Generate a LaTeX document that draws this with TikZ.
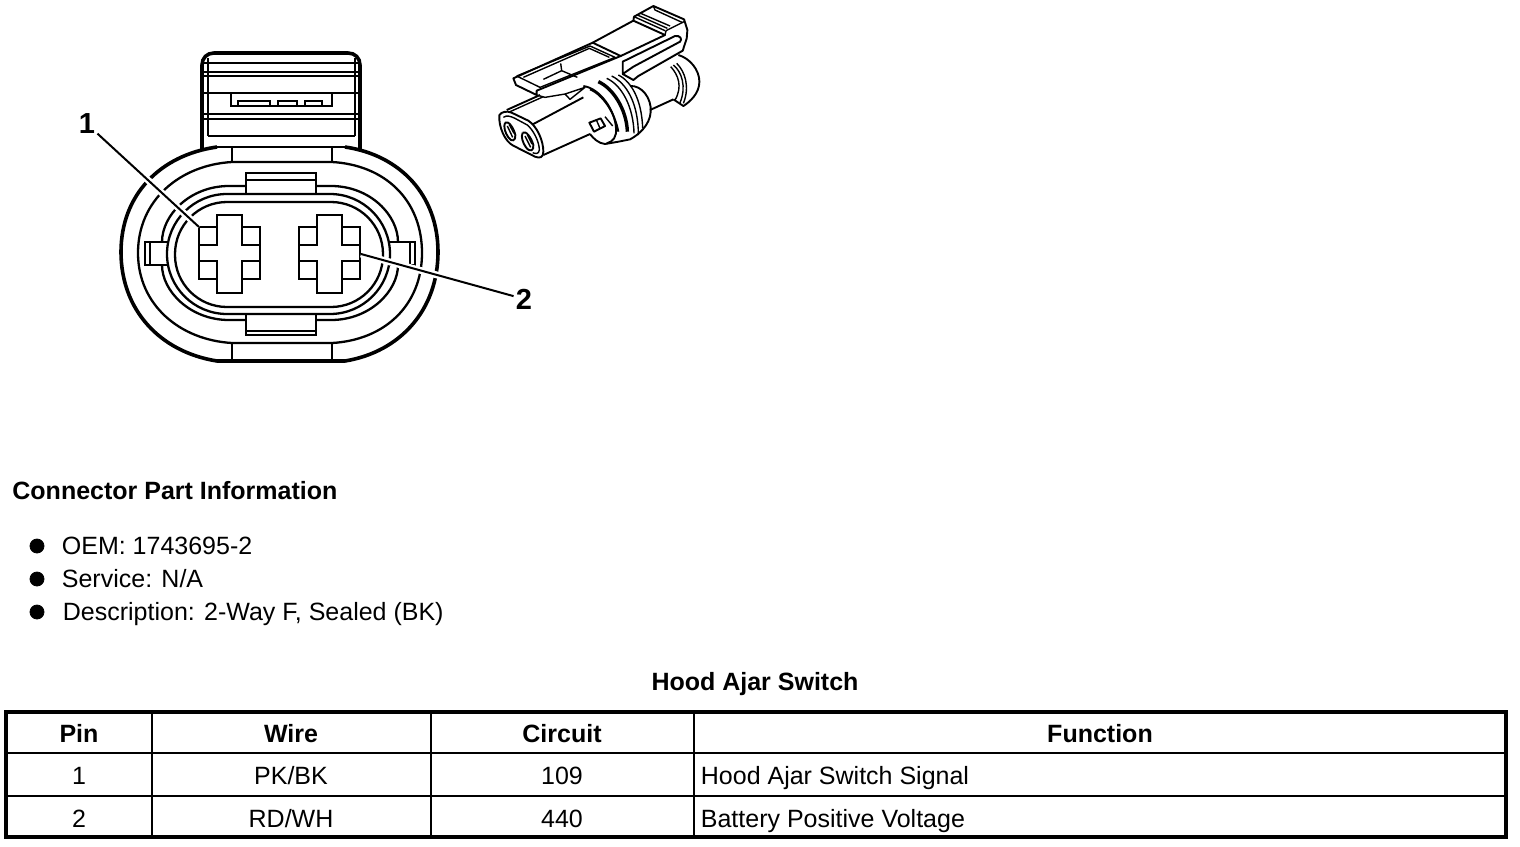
\documentclass[tikz,border=0pt]{standalone}
\usepackage{fontspec}
\setmainfont{Liberation Sans}
\tikzset{
    thinline/.style={line width=1.15pt},
    thickline/.style={line width=1.8pt},
    outlineline/.style={line width=0.95pt, line join=round},
    sketchline/.style={line width=0.7pt, line join=round},
    heavyline/.style={line width=1.7pt, line join=round},
    leaderline/.style={line width=1pt, preaction={draw, white, line width=3.4pt}},
    calloutlabel/.style={font=\fontsize{14.5}{16}\selectfont\bfseries, inner sep=1pt},
    plaintext/.style={font=\fontsize{12.5}{14}\selectfont, anchor=base, inner sep=0pt},
    headtext/.style={plaintext, font=\fontsize{12.5}{14}\selectfont\bfseries},
    pinsocket/.pic={
        \draw[thinline] (0,0) -- (18,0) -- (18,-12) -- (43,-12) -- (43,0) -- (61,0) -- (61,52)
            -- (43,52) -- (43,66) -- (18,66) -- (18,52) -- (0,52) -- cycle;
        \draw[thinline] (0,18) -- (18,18) -- (18,0) (0,34) -- (18,34) -- (18,52);
        \draw[thinline] (61,18) -- (43,18) -- (43,0) (61,34) -- (43,34) -- (43,52);
    }
}
\begin{document}
\begin{tikzpicture}[x=0.5pt, y=-0.5pt]
    \useasboundingbox (0,0) rectangle (1520,846);
    % rear latch of the connector
    \draw[thickline] (202,150) -- (202,65) .. controls (202,58) and (207,53) .. (214,53) -- (348,53)
        .. controls (355,53) and (360,58) .. (360,65) -- (360,150);
    \draw[thinline] (208,58) -- (208,136) (355,58) -- (355,136);
    \draw[thinline] (204,63) -- (358,63) (204,72) -- (358,72) (204,76) -- (358,76);
    \draw[thinline] (204,93) -- (332,93) (332,93) -- (358,93);
    \draw[thinline] (231,93) -- (231,106) -- (332,106) -- (332,93);
    \draw[thinline] (238,106) -- (238,101) -- (270,101) -- (270,106) (278,106) -- (278,101) -- (297,101) -- (297,106)
        (305,106) -- (305,101) -- (322,101) -- (322,106);
    \draw[thinline] (204,114) -- (358,114) (204,119) -- (358,119) (208,136) -- (355,136);
    \draw[thinline] (217,147) -- (345,147);
    % connector body
    \draw[thickline] (217,147) .. controls (160,155) and (121,195) .. (121,252) .. controls (121,310) and (160,352) .. (217,361)
        -- (345,361) .. controls (400,352) and (438,310) .. (438,252) .. controls (438,195) and (400,155) .. (345,147);
    \draw[thinline] (232,162) .. controls (180,165) and (138,200) .. (138,253) .. controls (138,305) and (180,340) .. (232,343)
        -- (332,343) .. controls (385,340) and (422,305) .. (422,253) .. controls (422,200) and (385,165) .. (332,162) -- cycle;
    \draw[thinline] (232,147) -- (232,162) (332,147) -- (332,162) (232,343) -- (232,361) (332,343) -- (332,361);
    % seal rings
    \draw[thinline] (246,186) -- (229,186) .. controls (190,186) and (162,215) .. (162,242);
    \draw[thinline] (162,265) .. controls (162,291) and (190,320) .. (229,320) -- (246,320);
    \draw[thinline] (316,186) -- (331,186) .. controls (370,186) and (398,215) .. (398,242);
    \draw[thinline] (398,265) .. controls (398,291) and (370,320) .. (331,320) -- (316,320);
    \draw[thinline, rounded corners=30pt] (167,194) rectangle (390,314);
    \draw[thinline, rounded corners=26pt] (175,202) rectangle (383,307);
    % locating tabs
    \draw[thinline] (246,194) -- (246,173) -- (316,173) -- (316,194) (246,180) -- (316,180);
    \draw[thinline] (246,314) -- (246,335) -- (316,335) -- (316,314) (246,331) -- (316,331);
    \draw[thinline] (167,242) -- (145,242) -- (145,265) -- (167,265) (150,242) -- (150,265);
    \draw[thinline] (390,242) -- (415,242) -- (415,265) -- (390,265) (410,242) -- (410,265);
    % terminals
    \pic at (199,227) {pinsocket};
    \pic at (299,227) {pinsocket};
    % callouts
    \node[calloutlabel] (label1) at (87,124) {1};
    \node[calloutlabel] (label2) at (524,299) {2};
    \coordinate (pin1) at (199,227);
    \coordinate (pin2) at (361,254);
    \draw[leaderline] (label1) -- (pin1);
    \draw[leaderline] (label2) -- (pin2);
    % perspective view, traced in 3x units
    \begin{scope}[shift={(490,0)}, x=0.1667pt, y=-0.1667pt]
        % front face and barrel
        \draw[outlineline] (28,345) .. controls (35,335) and (50,332) .. (65,338) -- (115,362)
            .. controls (140,378) and (160,420) .. (160,455) .. controls (160,472) and (150,476) .. (135,470)
            -- (70,437) .. controls (45,425) and (25,380) .. (28,345) -- cycle;
        \draw[sketchline] (40,352) .. controls (50,345) and (60,348) .. (75,355) -- (112,375)
            .. controls (130,390) and (148,425) .. (148,450) .. controls (146,462) and (138,462) .. (128,458);
        \draw[outlineline] (45,368) .. controls (55,360) and (72,385) .. (76,405) .. controls (78,422) and (65,428) .. (55,412) .. controls (45,398) and (40,380) .. (45,368);
        \draw[outlineline] (98,398) .. controls (108,390) and (125,415) .. (130,435) .. controls (132,452) and (120,458) .. (108,442) .. controls (98,428) and (92,410) .. (98,398);
        \draw[sketchline] (52,378) -- (68,412) (58,374) -- (72,400) (105,408) -- (122,442) (112,404) -- (126,432);
        \draw[outlineline] (50,330) -- (150,285);
        \draw[sketchline] (60,335) -- (160,290);
        \draw[outlineline] (130,372) -- (280,292);
        \draw[outlineline] (160,465) -- (300,402);
        % peg
        \draw[outlineline] (298,368) -- (332,355) -- (345,378) -- (312,395) -- cycle;
        \draw[sketchline] (320,362) -- (330,385) (345,350) -- (368,378);
        % seal
        \draw[outlineline] (280,258) .. controls (330,265) and (375,330) .. (378,385) .. controls (380,410) and (370,425) .. (350,430);
        \draw[heavyline] (325,245) .. controls (370,265) and (410,330) .. (412,395);
        \draw[outlineline] (300,268) .. controls (340,285) and (375,340) .. (385,395);
        \draw[sketchline] (350,235) .. controls (395,255) and (430,320) .. (432,400);
        \draw[sketchline] (365,228) .. controls (410,250) and (445,310) .. (445,405);
        \draw[sketchline] (385,225) .. controls (425,245) and (455,300) .. (458,385);
        \draw[outlineline] (420,258) .. controls (455,255) and (485,295) .. (482,335) .. controls (480,375) and (445,405) .. (420,418) -- (385,425) -- (345,432) .. controls (325,430) and (310,415) .. (300,402);
        % rear barrel
        \draw[outlineline] (480,330) -- (550,298);
        \draw[outlineline] (565,165) .. controls (600,175) and (628,210) .. (628,245) .. controls (628,280) and (600,305) .. (580,318) -- (550,298);
        \draw[sketchline] (550,195) .. controls (575,215) and (590,260) .. (570,308);
        \draw[sketchline] (560,190) .. controls (585,215) and (600,260) .. (580,310);
        \draw[sketchline] (542,200) .. controls (565,225) and (578,260) .. (555,300);
        % latch frame
        \draw[outlineline] (70,235) -- (308,128) -- (392,168) -- (140,272) -- (140,285) -- (78,255) -- cycle;
        \draw[sketchline] (80,228) -- (300,138) -- (375,172) -- (150,262) -- (80,228);
        \draw[sketchline] (100,232) -- (298,145) -- (358,172);
        \draw[sketchline] (212,190) -- (215,212) -- (160,238) (215,212) -- (262,232);
        \draw[sketchline] (140,285) -- (165,292) -- (225,282) -- (240,298) -- (285,262) -- (225,282);
        % latch plate and ridges
        \draw[outlineline] (308,128) -- (430,62) -- (525,105) -- (392,168);
        \draw[outlineline] (430,62) -- (432,50) -- (490,18) -- (582,58) -- (592,90) -- (590,115) -- (578,152) -- (445,228) -- (430,240) -- (398,222);
        \draw[sketchline] (432,50) -- (525,92) (442,45) -- (532,85) (452,40) -- (540,78) (490,18) -- (495,30) -- (578,68);
        \draw[sketchline] (525,105) -- (528,92) -- (582,65);
        \draw[outlineline] (398,185) -- (555,108) .. controls (570,105) and (578,118) .. (570,125) -- (430,200) -- (398,222) -- cycle;
    \end{scope}
    % part information
    \node[headtext, anchor=base west] (parthead) at (12,499) {Connector Part Information};
    \filldraw (37,546) circle (7);
    \filldraw (37,579) circle (7);
    \filldraw (37,612) circle (7);
    \node[plaintext, anchor=base west] (oem) at (61.5,554) {OEM: 1743695-2};
    \node[plaintext, anchor=base west] (service) at (61.5,587) {Service: N/A};
    \node[plaintext, anchor=base west] (descr) at (62.5,620) {Description: 2-Way F, Sealed (BK)};
    % pin table
    \node[headtext] (title) at (755,690) {Hood Ajar Switch};
    \draw[thickline] (6,712) rectangle (1506,837);
    \draw[line width=1.4pt] (6,753) -- (1506,753);
    \draw[thinline] (6,796) -- (1506,796);
    \draw[thinline] (152,712) -- (152,837) (431,712) -- (431,837) (694,712) -- (694,837);
    \node[headtext] (pinhead) at (79,742) {Pin};
    \node[headtext] (wirehead) at (291,742) {Wire};
    \node[headtext] (circuithead) at (562,742) {Circuit};
    \node[headtext] (functionhead) at (1100,742) {Function};
    \node[plaintext] (pina) at (79,784) {1};
    \node[plaintext] (wirea) at (291,784) {PK/BK};
    \node[plaintext] (circuita) at (562,784) {109};
    \node[plaintext, anchor=base west] (functiona) at (700.5,784) {Hood Ajar Switch Signal};
    \node[plaintext] (pinb) at (79,827) {2};
    \node[plaintext] (wireb) at (291,827) {RD/WH};
    \node[plaintext] (circuitb) at (562,827) {440};
    \node[plaintext, anchor=base west] (functionb) at (700.5,827) {Battery Positive Voltage};
\end{tikzpicture}
\end{document}
